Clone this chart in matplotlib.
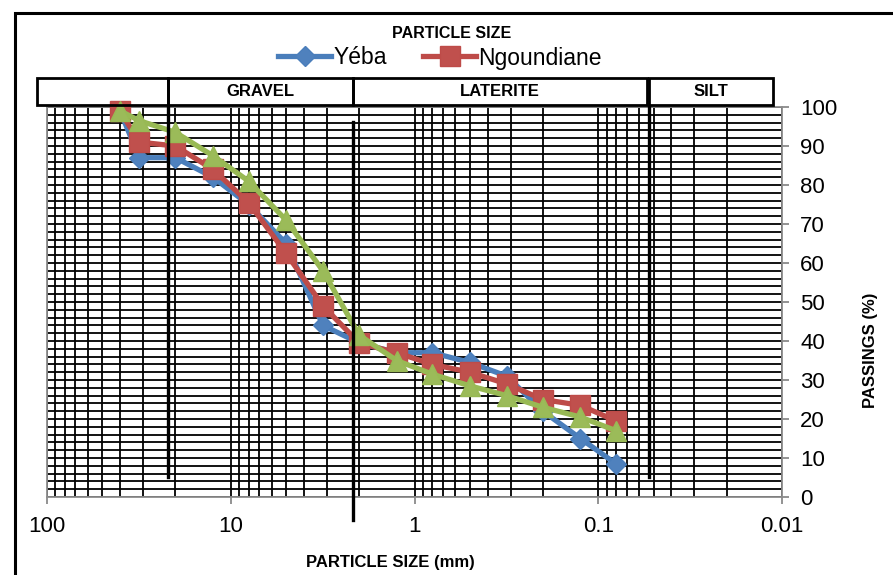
import math
import matplotlib
matplotlib.use('Agg')
import matplotlib.pyplot as plt
from matplotlib.patches import Rectangle
from matplotlib.lines import Line2D
from matplotlib.transforms import blended_transform_factory
from matplotlib.ticker import FixedLocator, FixedFormatter, NullFormatter, MultipleLocator, LogLocator

plt.rcParams['font.family'] = ['Liberation Sans', 'DejaVu Sans']

# ---- data ----
sizes_mm = [40, 31.5, 20, 12.5, 8, 5, 3.15, 2, 1.25, 0.8, 0.5, 0.315, 0.2, 0.125, 0.08]
yeba = [99, 87, 87, 82, 75, 65, 44, 39.5, 37, 37, 34.5, 31, 22, 15, 8.5]
ngoundiane = [99, 91, 90, 84, 75.5, 62.5, 49, 39.5, 37, 34, 32, 29, 25, 23.5, 19.5]
third_sample = [99, 96.5, 93.5, 87.5, 81, 71, 58, 41.5, 35, 31.5, 28.5, 26, 23, 20.5, 17]
series_names = ['Yéba', 'Ngoundiane']

x_tick_values = [100, 10, 1, 0.1, 0.01]
x_tick_labels = ['100', '10', '1', '0.1', '0.01']
y_tick_values = list(range(0, 101, 10))

zone_labels = ['', 'GRAVEL', 'LATERITE', 'SILT']
zone_left = [113, 22, 2.16, 0.0527]
zone_right = [22, 2.16, 0.0543, 0.0112]
divider_x = [22, 2.16, 0.0527]
divider_top = [1.0, 0.962, 1.0]
divider_bottom = [0.051, -0.059, 0.051]

BLUE = '#4A7EBB'
RED = '#BE4B48'
GREEN = '#98B954'

W, H = 893, 575
fig = plt.figure(figsize=(W / 100, H / 100), dpi=100)
ax = fig.add_axes([47 / W, 1 - 497 / H, 735 / W, 390 / H])

ax.set_xscale('log')
ax.set_xlim(100, 0.01)
ax.set_ylim(0, 100)

# grid
ax.xaxis.set_major_locator(FixedLocator(x_tick_values))
ax.xaxis.set_major_formatter(FixedFormatter(x_tick_labels))
ax.xaxis.set_minor_locator(LogLocator(base=10, subs=range(2, 10), numticks=20))
ax.xaxis.set_minor_formatter(NullFormatter())
ax.yaxis.set_major_locator(FixedLocator(y_tick_values))
ax.yaxis.set_minor_locator(MultipleLocator(2))
ax.grid(which='both', axis='both', color='black', lw=1.3, zorder=0)
ax.set_axisbelow(True)

ax.yaxis.tick_right()
ax.tick_params(axis='both', which='major', labelsize=16, length=5, color='#808080', width=1.2)
ax.tick_params(axis='y', which='major', pad=8)
ax.tick_params(axis='x', which='major', pad=9)
ax.tick_params(which='minor', length=0)
for s in ax.spines.values():
    s.set_color('#8c8c8c')
    s.set_linewidth(1.3)

# series
LW = 3.8
ax.plot(sizes_mm, yeba, color=BLUE, lw=LW, marker='D', ms=10, mec=BLUE, mfc='#4F81BD', zorder=3, clip_on=False)
ax.plot(sizes_mm, ngoundiane, color=RED, lw=LW, marker='s', ms=14, mec=RED, mfc='#C0504D', zorder=4, clip_on=False)
ax.plot(sizes_mm, third_sample, color=GREEN, lw=LW, marker='^', ms=14, mec=GREEN, mfc='#9BBB59', zorder=5, clip_on=False)

# zone header boxes and dividers
trans = blended_transform_factory(ax.transData, ax.transAxes)
for lab, xl, xr in zip(zone_labels, zone_left, zone_right):
    r = Rectangle((xl, 1.005), xr - xl, 0.069, transform=trans, fill=False,
                  ec='black', lw=2.0, clip_on=False, zorder=6)
    ax.add_patch(r)
    if lab:
        xc = 10 ** ((math.log10(xl) + math.log10(xr)) / 2)
        ax.text(xc, 1.039, lab, transform=trans, ha='center', va='center',
                fontsize=12, fontweight='bold', clip_on=False)
for xd, yt, yb in zip(divider_x, divider_top, divider_bottom):
    ax.add_line(Line2D([xd, xd], [yb, yt], transform=trans, color='black', lw=2.4,
                       clip_on=False, zorder=6))

# texts
fig.text(452 / W, 1 - 33 / H, 'PARTICLE SIZE', ha='center', va='center', fontsize=11.5, fontweight='bold')
fig.text(390 / W, 1 - 563 / H, 'PARTICLE SIZE (mm)', ha='center', va='center', fontsize=12, fontweight='bold')
fig.text(870 / W, 1 - 350 / H, 'PASSINGS (%)', ha='center', va='center', rotation=90, fontsize=12, fontweight='bold')

# legend
handles = [
    Line2D([], [], color=BLUE, lw=LW, marker='D', ms=10, mfc='#4F81BD', mec=BLUE),
    Line2D([], [], color=RED, lw=LW, marker='s', ms=14, mfc='#C0504D', mec=RED),
]
fig.legend(handles, series_names, loc='center', bbox_to_anchor=(440 / W, 1 - 58 / H), ncol=2,
           frameon=False, fontsize=16.5, handlelength=2.3, handletextpad=0.1, columnspacing=1.6,
           borderpad=0, borderaxespad=0)

# figure frame
fig.add_artist(Rectangle((15 / W, -0.2), 1.2, 1.2 - 13 / H, transform=fig.transFigure,
                         fill=False, ec='black', lw=2.2, clip_on=False))

fig.savefig('out.png', dpi=100)
